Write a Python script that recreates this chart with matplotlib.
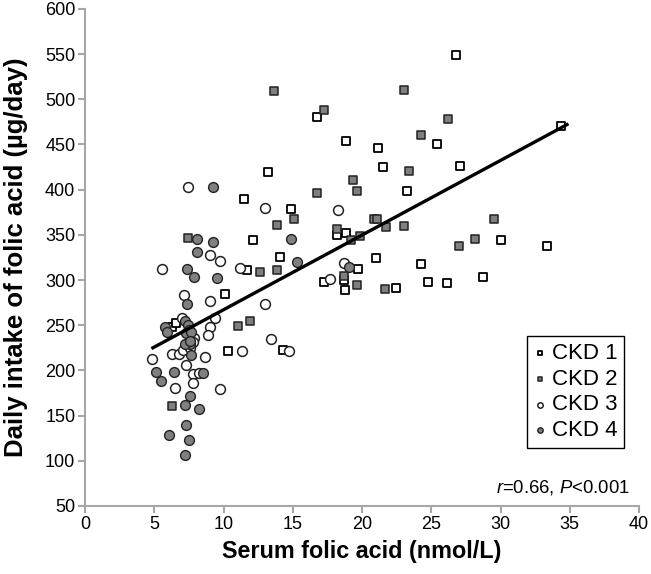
import matplotlib
matplotlib.use("Agg")
import matplotlib.pyplot as plt
import numpy as np

plt.rcParams['font.family'] = ['Liberation Sans', 'DejaVu Sans']
plt.rcParams['mathtext.fontset'] = 'custom'
plt.rcParams['mathtext.rm'] = 'Liberation Sans'
plt.rcParams['mathtext.it'] = 'Liberation Sans:italic'

# CKD 1 (open squares)
ckd1_x = [11.5, 12.1, 11.7, 10.1, 10.35, 6.3, 6.6, 16.75, 25.44, 18.87, 21.16, 13.19, 21.54,
          23.27, 14.87, 18.17, 18.87, 14.06, 21.04, 19.73, 24.26, 24.79, 26.11, 17.29, 18.7,
          18.77, 22.43, 14.27, 26.79, 27.08, 34.37, 30.04, 33.34, 28.76]
ckd1_y = [390, 344, 311, 284, 222, 248, 253, 480, 451, 454, 446, 420, 425,
          399, 379, 350, 352, 325, 324, 312, 318, 298, 297, 298, 300,
          289, 291, 223, 549, 426, 470, 344, 338, 303]

# CKD 2 (filled squares)
ckd2_x = [7.4, 12.64, 11.07, 11.91, 6.26, 13.65, 23.05, 17.28, 26.19, 24.26, 23.42, 19.33,
          19.66, 16.75, 15.07, 13.88, 20.87, 21.06, 21.73, 23.05, 18.17, 19.18, 19.86,
          13.88, 18.7, 19.66, 21.66, 29.53, 28.16, 26.98]
ckd2_y = [347, 309, 249, 255, 161, 509, 510, 488, 478, 460, 421, 411,
          398, 396, 367, 361, 368, 367, 359, 360, 357, 344, 349,
          311, 305, 294, 290, 367, 345, 338]

# CKD 3 (open circles)
ckd3_x = [7.46, 9.05, 9.77, 5.54, 11.22, 7.17, 9.05, 9.36, 9.05, 8.86, 11.34, 4.81, 6.3,
          6.79, 7.08, 8.64, 7.26, 7.82, 8.23, 6.52, 7.82, 9.77, 7.0, 7.9, 7.8, 7.55,
          13.02, 18.3, 18.68, 17.71, 13.02, 13.43, 14.75]
ckd3_y = [403, 328, 321, 312, 313, 283, 277, 258, 248, 239, 221, 213, 218,
          218, 223, 215, 206, 196, 197, 181, 186, 179, 258, 236, 231, 225,
          380, 378, 319, 301, 273, 235, 221]

# CKD 4 (filled circles)
ckd4_x = [9.27, 8.09, 9.27, 8.09, 7.36, 9.55, 7.85, 7.36, 7.68, 5.15, 6.4, 8.54, 5.49,
          7.56, 7.22, 8.25, 7.27, 6.09, 7.51, 7.22, 5.75, 5.9, 7.2, 7.4, 7.5, 7.3,
          7.65, 7.6, 7.25, 7.55, 14.87, 15.28, 19.04]
ckd4_y = [403, 345, 342, 331, 312, 302, 303, 273, 217, 198, 198, 197, 188,
          172, 162, 157, 140, 128, 123, 106, 248, 242, 255, 250, 245, 241,
          242, 229, 229, 233, 345, 320, 314]

# Regression line end points
line_x = [4.9, 34.8]
line_y = [225, 472]

fig = plt.figure(figsize=(6.51, 5.74), dpi=100)
ax = fig.add_axes([0.1306, 0.1185, 0.851, 0.866])

gray_fill = '#7f7f7f'
s_sq = 40
s_ci = 50
ax.scatter(ckd1_x, ckd1_y, marker='s', s=s_sq, facecolor='white', edgecolor='black',
           linewidth=1.3, label='CKD 1', zorder=3)
ax.scatter(ckd2_x, ckd2_y, marker='s', s=s_sq, facecolor=gray_fill, edgecolor='#222222',
           linewidth=1.1, label='CKD 2', zorder=3)
ax.scatter(ckd3_x, ckd3_y, marker='o', s=s_ci, facecolor='white', edgecolor='#222222',
           linewidth=1.1, label='CKD 3', zorder=3)
ax.scatter(ckd4_x, ckd4_y, marker='o', s=s_ci, facecolor=gray_fill, edgecolor='#222222',
           linewidth=1.0, label='CKD 4', zorder=3)
ax.plot(line_x, line_y, color='black', linewidth=2.4, zorder=4)

ax.set_xlim(0, 40)
ax.set_ylim(50, 600)
ax.set_xticks(np.arange(0, 41, 5))
ax.set_yticks(np.arange(50, 601, 50))
for sp in ['top', 'right']:
    ax.spines[sp].set_visible(False)
for sp in ['left', 'bottom']:
    ax.spines[sp].set_color('#a6a6a6')
    ax.spines[sp].set_linewidth(1.5)
ax.tick_params(axis='both', colors='#a6a6a6', length=5, width=1.5, labelsize=13,
               labelcolor='black', pad=2)

ax.set_xlabel('Serum folic acid (nmol/L)', fontsize=16.8, fontweight='bold', labelpad=5)
ax.set_ylabel('Daily intake of folic acid (\u00b5g/day)', fontsize=18.5, fontweight='bold')
ax.yaxis.set_label_coords(-0.103, 0.5)

ax.text(39.3, 71, r'$\it{r}$=0.66, $\it{P}$<0.001', fontsize=13.3, ha='right', va='center')

leg = ax.legend(loc='upper right', bbox_to_anchor=(0.973, 0.342), fontsize=16,
                markerscale=0.55, handlelength=0.5, handletextpad=0.3, borderpad=0.3,
                labelspacing=0.22, fancybox=False, framealpha=1, borderaxespad=0)
leg.get_frame().set_edgecolor('black')
leg.get_frame().set_linewidth(1.0)

fig.savefig('out.png', dpi=100)
